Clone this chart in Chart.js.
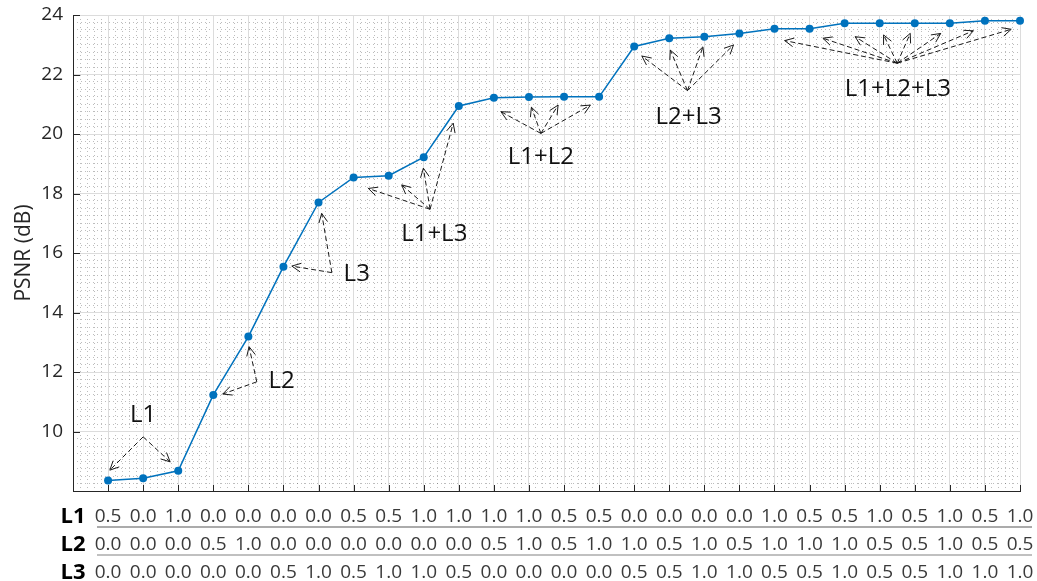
<!DOCTYPE html>
<html>
<head>
<meta charset="utf-8">
<script src="https://cdn.jsdelivr.net/npm/chart.js@4/dist/chart.umd.min.js"></script>
<style>
  html, body { margin: 0; padding: 0; background: #fff; }
  #wrap { width: 1037px; height: 581px; }
</style>
</head>
<body>
<div id="wrap"><canvas id="chart" width="1037" height="581"></canvas></div>
<script>
// PSNR (dB) for each of the 27 layer-weight settings
const psnr = [8.35, 8.43, 8.68, 11.23, 13.19, 15.54, 17.70, 18.54, 18.60, 19.22,
              20.94, 21.22, 21.24, 21.25, 21.25, 22.94, 23.22, 23.27, 23.38, 23.54,
              23.54, 23.72, 23.72, 23.72, 23.72, 23.81, 23.81];

// weight table shown under the x axis
const rowNames = ['L1', 'L2', 'L3'];
const l1 = ['0.5','0.0','1.0','0.0','0.0','0.0','0.0','0.5','0.5','1.0','1.0','1.0','1.0','0.5',
            '0.5','0.0','0.0','0.0','0.0','1.0','0.5','0.5','1.0','0.5','1.0','0.5','1.0'];
const l2 = ['0.0','0.0','0.0','0.5','1.0','0.0','0.0','0.0','0.0','0.0','0.0','0.5','1.0','0.5',
            '1.0','1.0','0.5','1.0','0.5','1.0','1.0','1.0','0.5','0.5','1.0','0.5','0.5'];
const l3 = ['0.0','0.0','0.0','0.0','0.0','0.5','1.0','0.5','1.0','1.0','0.5','0.0','0.0','0.0',
            '0.0','0.5','0.5','1.0','1.0','0.5','0.5','1.0','0.5','0.5','1.0','1.0','1.0'];

// y ticks that carry a label
const yLabelled = [10, 12, 14, 16, 18, 20, 22, 24];

// callout groups: label, label anchor, arrow origin and arrow tips (data coordinates)
const calloutText = ['L1', 'L2', 'L3', 'L1+L3', 'L1+L2', 'L2+L3', 'L1+L2+L3'];
const calloutAt = [[2.0, 10.55], [5.95, 11.70], [8.09, 15.29], [10.3, 16.64],
                   [13.34, 19.23], [17.55, 20.55], [23.52, 21.51]];
const calloutFrom = [[2.0, 9.82], [5.24, 11.67], [7.38, 15.34], [10.18, 17.47],
                     [13.34, 20.02], [17.52, 21.46], [23.5, 22.38]];
const calloutTo = [
  [[1.05, 8.70], [2.77, 8.98]],
  [[4.27, 11.26], [5.02, 12.85]],
  [[6.24, 15.56], [7.09, 17.33]],
  [[8.42, 18.17], [9.37, 18.29], [9.99, 18.85], [10.84, 20.36]],
  [[12.2, 20.75], [13.07, 20.9], [13.83, 20.97], [14.75, 20.97]],
  [[16.22, 22.62], [17.03, 22.82], [17.96, 22.93], [18.83, 22.99]],
  [[20.29, 23.14], [21.38, 23.22], [22.3, 23.27], [23.11, 23.33],
   [23.87, 23.38], [24.74, 23.38], [25.67, 23.47], [26.75, 23.52]]
];

const AXIS = '#262626';
const BLUE = '#0072BD';

// short tick marks pointing into the plot, plus separators of the weight table
const axisDecor = {
  id: 'axisDecor',
  beforeDatasetsDraw(chart) {
    const { ctx, chartArea: a, scales: { x, y } } = chart;
    ctx.save();
    ctx.strokeStyle = AXIS;
    ctx.lineWidth = 1;
    ctx.beginPath();
    yLabelled.forEach(v => {
      const py = Math.round(y.getPixelForValue(v)) + 0.5;
      ctx.moveTo(a.left, py); ctx.lineTo(a.left + 7, py);
    });
    for (let i = 1; i <= psnr.length; i++) {
      const px = Math.round(x.getPixelForValue(i)) + 0.5;
      ctx.moveTo(px, a.bottom); ctx.lineTo(px, a.bottom - 6);
    }
    ctx.stroke();
    ctx.restore();
  },
  afterDraw(chart) {
    const { ctx, chartArea: a } = chart;
    ctx.save();
    ctx.lineWidth = 1.5;
    ctx.strokeStyle = '#8f8f8f';
    ctx.beginPath(); ctx.moveTo(a.left + 24, a.bottom + 36); ctx.lineTo(a.right + 12, a.bottom + 36); ctx.stroke();
    ctx.strokeStyle = '#ababab';
    ctx.beginPath(); ctx.moveTo(a.left + 24, a.bottom + 64); ctx.lineTo(a.right + 12, a.bottom + 64); ctx.stroke();
    ctx.restore();
  }
};

// dashed arrows with labels naming the active layers
const callouts = {
  id: 'callouts',
  afterDatasetsDraw(chart) {
    const { ctx, scales: { x, y } } = chart;
    ctx.save();
    ctx.strokeStyle = '#1a1a1a';
    ctx.lineWidth = 1;
    calloutText.forEach((text, k) => {
      const ax = x.getPixelForValue(calloutFrom[k][0]);
      const ay = y.getPixelForValue(calloutFrom[k][1]);
      calloutTo[k].forEach(t => {
        const tx = x.getPixelForValue(t[0]);
        const ty = y.getPixelForValue(t[1]);
        ctx.setLineDash([5, 3]);
        ctx.beginPath(); ctx.moveTo(ax, ay); ctx.lineTo(tx, ty); ctx.stroke();
        const ang = Math.atan2(ty - ay, tx - ax);
        const h = 10, spread = 0.45;
        ctx.setLineDash([]);
        ctx.beginPath();
        ctx.moveTo(tx - h * Math.cos(ang - spread), ty - h * Math.sin(ang - spread));
        ctx.lineTo(tx, ty);
        ctx.lineTo(tx - h * Math.cos(ang + spread), ty - h * Math.sin(ang + spread));
        ctx.stroke();
      });
      ctx.fillStyle = '#111';
      ctx.font = '24px "Open Sans"';
      ctx.textAlign = 'center';
      ctx.textBaseline = 'middle';
      ctx.fillText(text, x.getPixelForValue(calloutAt[k][0]), y.getPixelForValue(calloutAt[k][1]));
    });
    ctx.restore();
  }
};

new Chart(document.getElementById('chart'), {
  type: 'line',
  data: {
    datasets: [{
      data: psnr.map((v, i) => ({ x: i + 1, y: v })),
      borderColor: BLUE,
      backgroundColor: BLUE,
      borderWidth: 1.5,
      pointRadius: 4,
      pointBorderWidth: 0,
      pointBackgroundColor: BLUE,
      tension: 0,
      clip: false
    }]
  },
  options: {
    responsive: false,
    animation: false,
    devicePixelRatio: 1,
    layout: { padding: { top: 15, right: 17, bottom: 0, left: 0 } },
    plugins: { legend: { display: false }, tooltip: { enabled: false } },
    scales: {
      xMinor: {
        type: 'linear', position: 'bottom', min: 0, max: 27,
        ticks: { display: false, stepSize: 0.2 },
        grid: { color: 'rgba(0,0,0,0.26)', lineWidth: 1, drawTicks: false },
        border: { display: false, dash: [1, 3] }
      },
      yMinor: {
        type: 'linear', position: 'left', min: 8, max: 24,
        ticks: { display: false, stepSize: 0.25 },
        grid: { color: 'rgba(0,0,0,0.26)', lineWidth: 1, drawTicks: false },
        border: { display: false, dash: [1, 3] }
      },
      x: {
        type: 'linear', position: 'bottom', min: 0, max: 27,
        grid: { color: '#dcdcdc', lineWidth: 1, drawTicks: false },
        border: { display: true, color: AXIS, width: 1 },
        ticks: {
          stepSize: 1, autoSkip: false, maxRotation: 0, padding: 12,
          color: ctx => ctx.index === 0 ? '#000' : '#3a3a3a',
          font: ctx => ctx.index === 0
            ? { family: '"Open Sans"', size: 22, weight: 'bold', lineHeight: '28px' }
            : { family: '"Open Sans"', size: 19, lineHeight: '28px' },
          callback: v => {
            if (v === 0) return rowNames;
            const i = v - 1;
            return [l1[i], l2[i], l3[i]];
          }
        },
        afterFit: s => { s.height = 90; s.paddingLeft = 0; s.paddingRight = 0; }
      },
      y: {
        type: 'linear', position: 'left', min: 8, max: 24,
        grid: { color: '#dcdcdc', lineWidth: 1, drawTicks: false },
        border: { display: true, color: AXIS, width: 1 },
        ticks: {
          stepSize: 2, padding: 10, color: AXIS,
          font: { family: '"Open Sans"', size: 19 },
          callback: v => yLabelled.includes(v) ? String(v) : ''
        },
        title: {
          display: true, text: 'PSNR (dB)', color: AXIS,
          font: { family: '"Open Sans"', size: 21 },
          padding: { top: 11, bottom: 0 }
        },
        afterFit: s => { s.width = 73; s.paddingTop = 0; s.paddingBottom = 0; }
      }
    }
  },
  plugins: [axisDecor, callouts]
});
</script>
</body>
</html>
